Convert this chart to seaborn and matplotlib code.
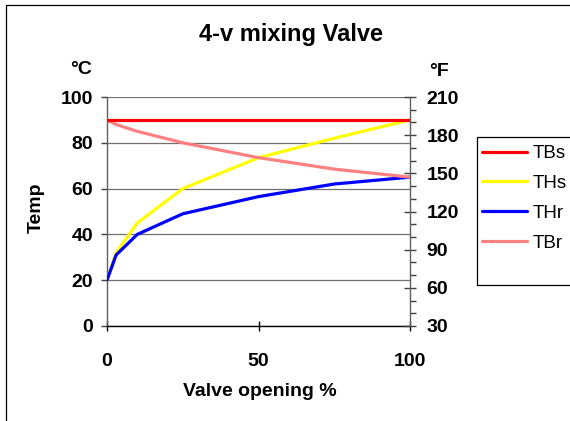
import matplotlib
matplotlib.use("Agg")
import matplotlib.pyplot as plt
from matplotlib.patches import Rectangle
from matplotlib.ticker import MultipleLocator
import numpy as np
import pandas as pd
import seaborn as sns

# data
valve = [0, 3, 10, 25, 50, 75, 100]
tbs = [90, 90, 90, 90, 90, 90, 90]
ths = [20, 32, 45, 60, 73.5, 82, 90]
thr = [20, 31, 40, 49, 56.5, 62, 65]
tbr = [90, 88, 85, 80, 73.5, 68.5, 65]
series = ["TBs", "THs", "THr", "TBr"]
colors = ["#FF0000", "#FFFF00", "#0000FF", "#FF8080"]
c_ticks = [0, 20, 40, 60, 80, 100]
f_ticks = [30, 60, 90, 120, 150, 180, 210]
x_ticks = [0, 50, 100]

sns.set_theme(style="white")
plt.rcParams["font.family"] = ["Liberation Sans", "DejaVu Sans"]
plt.rcParams["font.weight"] = "bold"
for k in ["text.color", "axes.labelcolor", "xtick.color", "ytick.color"]:
    plt.rcParams[k] = "black"

df = pd.DataFrame({"valve": valve, "TBs": tbs, "THs": ths, "THr": thr, "TBr": tbr})
long = df.melt(id_vars="valve", value_vars=series, var_name="series", value_name="temp")

W, H = 570, 421
fig = plt.figure(figsize=(W / 100, H / 100), dpi=100)
ax = fig.add_axes([107 / W, 1 - 326 / H, (410 - 107) / W, (326 - 97) / H])

sns.lineplot(data=long, x="valve", y="temp", hue="series", hue_order=series,
             palette=dict(zip(series, colors)), linewidth=2.3, ax=ax,
             legend=False, zorder=3)
ax.lines[0].set_zorder(4)

ax.set_xlim(0, 100)
ax.set_ylim(0, 100)
ax.set_xticks(x_ticks)
ax.set_yticks(c_ticks)
ax.set_xlabel("")
ax.set_ylabel("")
ax.yaxis.grid(True, color="#707070", linewidth=0.9)
ax.xaxis.grid(False)
ax.set_axisbelow(True)
for s in ["top", "right"]:
    ax.spines[s].set_visible(False)
ax.spines["left"].set_color("#606060")
ax.spines["bottom"].set_color("#000000")
ax.spines["left"].set_linewidth(1.0)
ax.spines["bottom"].set_linewidth(1.0)
ax.tick_params(axis="y", direction="out", length=4, width=1, color="#404040",
               pad=6, labelsize=14, left=True)
ax.tick_params(axis="x", direction="inout", length=7, width=1, color="#000000",
               pad=16, labelsize=14, bottom=True)
for lab in ax.get_xticklabels() + ax.get_yticklabels():
    lab.set_fontweight("bold")

ax2 = ax.twinx()
ax2.set_ylim(30, 210)
ax2.set_yticks(f_ticks)
ax2.yaxis.set_minor_locator(MultipleLocator(10))
for s in ["top", "left", "bottom"]:
    ax2.spines[s].set_visible(False)
ax2.spines["right"].set_color("#606060")
ax2.spines["right"].set_linewidth(1.0)
ax2.tick_params(axis="y", which="major", direction="inout", length=8, width=1,
                color="#404040", pad=8, labelsize=14, right=True)
ax2.tick_params(axis="y", which="minor", direction="out", length=4, width=1,
                color="#404040", right=True)
for lab in ax2.get_yticklabels():
    lab.set_fontweight("bold")
ax2.grid(False)

# titles and axis labels
fig.text(291 / W, 1 - 34 / H, "4-v mixing Valve", ha="center", va="center",
         fontsize=17, fontweight="bold")
fig.text(81 / W, 1 - 69 / H, "°C", ha="center", va="center", fontsize=14, fontweight="bold")
fig.text(439 / W, 1 - 71 / H, "°F", ha="center", va="center", fontsize=14, fontweight="bold")
fig.text(36 / W, 1 - 208 / H, "Temp", ha="center", va="center", rotation=90,
         fontsize=14, fontweight="bold")
fig.text(260 / W, 1 - 392 / H, "Valve opening %", ha="center", va="center",
         fontsize=14, fontweight="bold")

# legend
handles = [plt.Line2D([], [], color=c, linewidth=2.3) for c in colors]
leg = fig.legend(handles, series, loc="upper left",
                 bbox_to_anchor=(482 / W, 1 - 145 / H), frameon=False,
                 prop={"family": "Liberation Sans", "weight": "normal", "size": 13.5},
                 handlelength=2.4, handletextpad=0.32, labelspacing=0.68,
                 borderpad=0.0, borderaxespad=0.0)
fig.add_artist(Rectangle((477 / W, 1 - 285 / H), 120 / W, (285 - 137) / H,
                         transform=fig.transFigure, fill=False,
                         edgecolor="black", linewidth=0.9))

# chart border
fig.add_artist(Rectangle((5.5 / W, -0.1), 1.2, 1.1 - 5.5 / H,
                         transform=fig.transFigure, fill=False,
                         edgecolor="black", linewidth=0.9))

fig.savefig("out.png", dpi=100)
